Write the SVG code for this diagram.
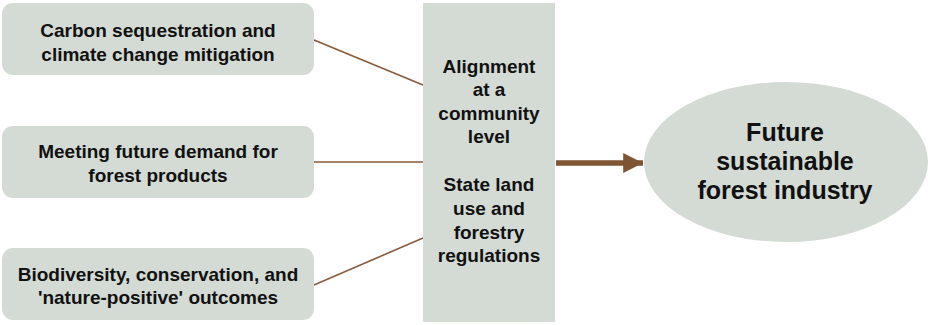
<svg xmlns="http://www.w3.org/2000/svg" width="928" height="325" viewBox="0 0 928 325">
  <style>
    .box { fill: #d3dbd4; }
    .lbl { font-family: "Liberation Sans", Arial, sans-serif; font-weight: bold; fill: #111; text-anchor: middle; }
    .s19 { font-size: 19px; }
    .s25 { font-size: 25px; }
    .link { stroke: #8a5a3b; stroke-width: 1.6; fill: none; }
  </style>
  <defs>
    <marker id="head" viewBox="0 0 10 10" refX="10" refY="5" markerWidth="3.6" markerHeight="3.6" orient="auto" markerUnits="strokeWidth">
      <path d="M0,0 L10,5 L0,10 Z" fill="#7e5533"/>
    </marker>
  </defs>

  <rect width="928" height="325" fill="#ffffff"/>

  <g id="connectors">
    <line class="link" x1="314" y1="40" x2="423" y2="85"/>
    <line class="link" x1="314" y1="162" x2="423" y2="162"/>
    <line class="link" x1="314" y1="285" x2="423" y2="238"/>
    <line x1="556" y1="163" x2="643" y2="163" stroke="#7e5533" stroke-width="5.5" marker-end="url(#head)"/>
  </g>

  <g id="carbon">
    <rect class="box" x="2" y="3" width="312" height="72" rx="11"/>
    <text class="lbl s19" x="158" y="37">Carbon sequestration and</text>
    <text class="lbl s19" x="158" y="61">climate change mitigation</text>
  </g>

  <g id="demand">
    <rect class="box" x="2" y="126" width="312" height="72" rx="11"/>
    <text class="lbl s19" x="158" y="158">Meeting future demand for</text>
    <text class="lbl s19" x="158" y="182">forest products</text>
  </g>

  <g id="biodiversity">
    <rect class="box" x="2" y="248" width="312" height="72" rx="11"/>
    <text class="lbl s19" x="158" y="281">Biodiversity, conservation, and</text>
    <text class="lbl s19" x="158" y="304">'nature-positive' outcomes</text>
  </g>

  <g id="alignment">
    <rect class="box" x="423" y="3" width="132" height="319"/>
    <text class="lbl s19" x="489" y="73">Alignment</text>
    <text class="lbl s19" x="489" y="96">at a</text>
    <text class="lbl s19" x="489" y="120">community</text>
    <text class="lbl s19" x="489" y="143">level</text>
    <text class="lbl s19" x="489" y="191">State land</text>
    <text class="lbl s19" x="489" y="215">use and</text>
    <text class="lbl s19" x="489" y="239">forestry</text>
    <text class="lbl s19" x="489" y="262">regulations</text>
  </g>

  <g id="future">
    <ellipse class="box" cx="786" cy="162" rx="142" ry="80"/>
    <text class="lbl s25" x="785" y="141">Future</text>
    <text class="lbl s25" x="785" y="170">sustainable</text>
    <text class="lbl s25" x="785" y="199">forest industry</text>
  </g>
</svg>
